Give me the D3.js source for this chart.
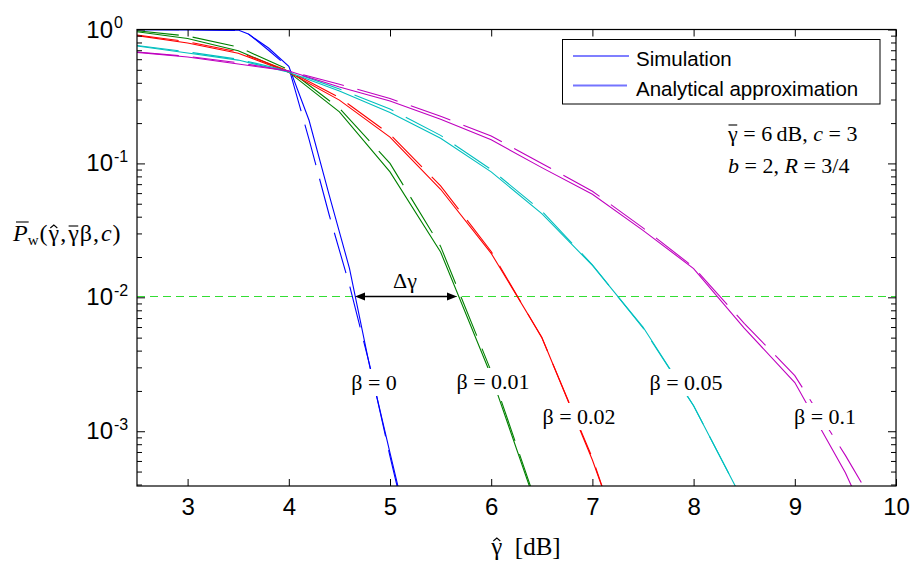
<!DOCTYPE html>
<html><head><meta charset="utf-8">
<script src="https://cdn.jsdelivr.net/npm/d3@7"></script>
<style>
body{margin:0;background:#fff}
svg{display:block}
.serif{font-family:"Liberation Serif","Times New Roman",serif}
.sans{font-family:"Liberation Sans",Arial,sans-serif}
</style></head><body>
<svg id="chart" width="914" height="562"></svg>
<script>
// gamma-hat grid in dB (0.5 dB steps), blue simulation is on a finer grid
const gammaDb   = [2.5, 3, 3.5, 4, 4.5, 5, 5.5, 6, 6.5, 7, 7.5, 8, 8.5, 9, 9.5, 10];
const gammaBlue = [2.5, 3, 3.5, 3.6, 3.8, 4, 4.2, 4.4, 4.6, 4.8, 5, 5.2];

// beta = 0
const simB0   = [0.995, 0.994, 0.99, 0.925, 0.727, 0.53, 0.21, 0.0578, 0.0164, 0.00304, 6.9e-4, 1.6e-4];
const anaB0   = [0.999, 0.998, 0.985, 0.93, 0.70, 0.52, 0.151, 0.041, 0.0123, 0.0031, 6.5e-4, 1.5e-4];
// beta = 0.01
const simB001 = [0.963, 0.857, 0.694, 0.48, 0.243, 0.0864, 0.0218, 0.0026, 2.1e-4];
const anaB001 = [0.98, 0.894, 0.74, 0.5, 0.258, 0.1, 0.024, 0.0028, 2.2e-4];
// beta = 0.02
const simB002 = [0.9, 0.793, 0.664, 0.48, 0.297, 0.157, 0.0641, 0.0213, 0.00504, 6.1e-4, 5.4e-5];
const anaB002 = [0.91, 0.81, 0.68, 0.49, 0.31, 0.165, 0.068, 0.022, 0.0050, 6.3e-4, 5e-5];
// beta = 0.05
const simB005 = [0.753, 0.667, 0.591, 0.48, 0.347, 0.24, 0.154, 0.0864, 0.0422, 0.0173, 0.006, 0.00155, 2.9e-4, 3.5e-5];
const anaB005 = [0.76, 0.68, 0.6, 0.49, 0.36, 0.255, 0.162, 0.09, 0.044, 0.0175, 0.0059, 0.00155, 2.9e-4, 3.3e-5];
// beta = 0.1
const simB01  = [0.675, 0.623, 0.552, 0.49, 0.372, 0.292, 0.214, 0.15, 0.093, 0.0589, 0.0316, 0.0164, 0.0059, 0.00231, 4.9e-4, 7.3e-5];
const anaB01  = [0.68, 0.63, 0.565, 0.49, 0.39, 0.305, 0.225, 0.16, 0.1, 0.062, 0.033, 0.0168, 0.0064, 0.0026, 6.6e-4, 1.5e-4];

const xTicks = [3, 4, 5, 6, 7, 8, 9, 10];
const yDecades = [0, -1, -2, -3];
const betaLabels = ['β = 0', 'β = 0.01', 'β = 0.02', 'β = 0.05', 'β = 0.1'];
const legendLabels = ['Simulation', 'Analytical approximation'];
const refLevel = 0.01;

const svg = d3.select('#chart');
const L = 137, R = 896, T = 29.5, B = 486;

const x = d3.scaleLinear().domain([2.5, 10]).range([L, R]);
const y = d3.scaleLog().domain([3.9e-4, 1]).range([B, T]);

const zip = (xs, ps) => ps.map((p, i) => [xs[i], p]);
const series = [
  {color: '#0000ff', sim: zip(gammaBlue, simB0),  ana: zip(gammaBlue, anaB0)},
  {color: '#008000', sim: zip(gammaDb, simB001),  ana: zip(gammaDb, anaB001)},
  {color: '#ff0000', sim: zip(gammaDb, simB002),  ana: zip(gammaDb, anaB002)},
  {color: '#00bfbf', sim: zip(gammaDb, simB005),  ana: zip(gammaDb, anaB005)},
  {color: '#bf00bf', sim: zip(gammaDb, simB01),   ana: zip(gammaDb, anaB01)}
];

svg.append('clipPath').attr('id', 'plot').append('rect')
  .attr('x', L).attr('y', T).attr('width', R - L).attr('height', B - T);

// reference line at 1e-2
const yRef = Math.round(y(refLevel)) - 0.5;
svg.append('line')
  .attr('x1', L).attr('x2', R).attr('y1', yRef).attr('y2', yRef)
  .attr('stroke', '#33dd33').attr('stroke-width', 1).attr('stroke-dasharray', '8,5');

const line = d3.line().x(d => x(d[0])).y(d => y(d[1]));
const curves = svg.append('g').attr('clip-path', 'url(#plot)');
series.forEach(s => {
  curves.append('path').attr('d', line(s.ana))
    .attr('fill', 'none').attr('stroke', s.color).attr('stroke-width', 1.1)
    .attr('stroke-dasharray', '42,14');
  curves.append('path').attr('d', line(s.sim))
    .attr('fill', 'none').attr('stroke', s.color).attr('stroke-width', 1.1);
});

// axes: ticks point inward
const axisStyle = g => {
  g.select('.domain').remove();
  g.selectAll('line').attr('stroke', '#000');
};
svg.append('g').attr('transform', `translate(0,${B})`)
  .call(d3.axisBottom(x).tickValues(xTicks).tickSize(-7).tickPadding(11.5).tickFormat(d3.format('d')))
  .call(axisStyle)
  .call(g => g.selectAll('text').attr('class', 'sans').attr('font-size', 24).attr('fill', '#000'));
svg.append('g').attr('transform', `translate(0,${T})`)
  .call(d3.axisTop(x).tickValues(xTicks).tickSize(-7).tickFormat(''))
  .call(axisStyle);

const majors = yDecades.map(e => Math.pow(10, e));
const minors = [];
[-4, -3, -2, -1].forEach(e => d3.range(2, 10).forEach(m => {
  const v = m * Math.pow(10, e);
  if (v > 3.9e-4 && v < 1) minors.push(v);
}));
[[d3.axisLeft, L], [d3.axisRight, R]].forEach(([ax, pos]) => {
  svg.append('g').attr('transform', `translate(${pos},0)`)
    .call(ax(y).tickValues(majors).tickSize(-8).tickFormat('')).call(axisStyle);
  svg.append('g').attr('transform', `translate(${pos},0)`)
    .call(ax(y).tickValues(minors).tickSize(-5).tickFormat('')).call(axisStyle);
});

// y tick labels 10^n
yDecades.forEach(e => {
  const yy = y(Math.pow(10, e));
  svg.append('text').attr('class', 'sans').attr('x', 113).attr('y', yy + 8)
    .attr('text-anchor', 'end').attr('font-size', 24).text('10');
  svg.append('text').attr('class', 'sans').attr('x', 114).attr('y', yy - 1.5)
    .attr('font-size', 16).text(String(e));
});

svg.append('rect').attr('x', L).attr('y', T).attr('width', R - L).attr('height', B - T)
  .attr('fill', 'none').attr('stroke', '#000').attr('stroke-width', 1.2);

// rich text helper (italic pieces, overbars, hats, subscripts)
function rich(pieces, fs) {
  const g = svg.append('g').attr('class', 'serif');
  let cx = 0;
  pieces.forEach(p => {
    const size = p.fs || fs;
    const t = g.append('text').attr('x', cx).attr('y', p.dy || 0).attr('font-size', size)
      .attr('font-style', p.it ? 'italic' : 'normal').text(p.t);
    const w = t.node().getComputedTextLength();
    if (p.bar) {
      g.append('line').attr('x1', cx + (p.it ? 3 : 0.5)).attr('x2', cx + w + (p.it ? 1 : -0.5))
        .attr('y1', -p.bar).attr('y2', -p.bar).attr('stroke', '#000').attr('stroke-width', 1.1);
    }
    if (p.hat) {
      const m = cx + w / 2;
      g.append('path').attr('d', `M${m - 3.5},${-p.hat + 3}L${m},${-p.hat}L${m + 3.5},${-p.hat + 3}`)
        .attr('fill', 'none').attr('stroke', '#000').attr('stroke-width', 1.1);
    }
    cx += w + (p.sp || 0);
  });
  return {g, w: cx};
}

// y-axis title
rich([
  {t: 'P', it: true, bar: 19}, {t: 'w', fs: 15, dy: 4, sp: 1}, {t: '(', sp: 1},
  {t: 'γ', hat: 16, sp: 1}, {t: ',', sp: 2}, {t: 'γ', bar: 15, sp: 1}, {t: 'β', sp: 1}, {t: ',', sp: 2},
  {t: 'c', it: true, sp: 1}, {t: ')'}
], 24).g.attr('transform', 'translate(13,241)');

// x-axis title
const xt = rich([{t: 'γ', hat: 17}, {t: '\u00a0\u00a0[dB]'}], 25);
xt.g.attr('transform', `translate(${526 - xt.w / 2},555)`);

// parameter note
rich([{t: 'γ', bar: 15.5}, {t: '\u00a0=\u00a06\u2009dB,\u00a0'}, {t: 'c', it: true}, {t: '\u00a0=\u00a03'}], 22)
  .g.attr('transform', 'translate(728,140.5)');
rich([{t: 'b', it: true}, {t: '\u00a0=\u00a02,\u00a0'}, {t: 'R', it: true}, {t: '\u00a0=\u00a03/4'}], 22)
  .g.attr('transform', 'translate(728,173)');

// beta labels with white background
const betaPos = [[374, 390], [493, 389], [579, 424], [686, 390], [825, 424]];
betaLabels.forEach((lab, i) => {
  const g = svg.append('g');
  const t = g.append('text').attr('class', 'serif').attr('x', betaPos[i][0]).attr('y', betaPos[i][1])
    .attr('text-anchor', 'middle').attr('font-size', 22).text(lab.replace(/ /g, '\u00a0'));
  const bb = t.node().getBBox();
  g.insert('rect', 'text').attr('x', bb.x - 3).attr('y', bb.y - 1)
    .attr('width', bb.width + 6).attr('height', bb.height + 2).attr('fill', '#fff');
});

// delta gamma arrow
const ya = yRef, xa1 = 355, xa2 = 457;
svg.append('line').attr('x1', xa1 + 8).attr('x2', xa2 - 8).attr('y1', ya).attr('y2', ya)
  .attr('stroke', '#000').attr('stroke-width', 1.6);
svg.append('path').attr('d', `M${xa1},${ya}L${xa1 + 10},${ya - 4}L${xa1 + 10},${ya + 4}Z`).attr('fill', '#000');
svg.append('path').attr('d', `M${xa2},${ya}L${xa2 - 10},${ya - 4}L${xa2 - 10},${ya + 4}Z`).attr('fill', '#000');
svg.append('text').attr('class', 'serif').attr('x', 405).attr('y', 288).attr('text-anchor', 'middle')
  .attr('font-size', 22).text('Δγ');

// legend
const lg = svg.append('g');
lg.append('rect').attr('x', 562.5).attr('y', 39.5).attr('width', 317.5).attr('height', 64.5)
  .attr('fill', '#fff').attr('stroke', '#000').attr('stroke-width', 1);
lg.append('line').attr('x1', 573).attr('x2', 629).attr('y1', 56).attr('y2', 56)
  .attr('stroke', '#0000ff').attr('stroke-width', 1.1);
lg.append('line').attr('x1', 573).attr('x2', 627).attr('y1', 85.5).attr('y2', 85.5)
  .attr('stroke', '#7474ff').attr('stroke-width', 2);
legendLabels.forEach((lab, i) => {
  lg.append('text').attr('class', 'sans').attr('x', 636).attr('y', 66 + i * 29.5)
    .attr('font-size', 20.5).text(lab);
});
</script>
</body></html>
